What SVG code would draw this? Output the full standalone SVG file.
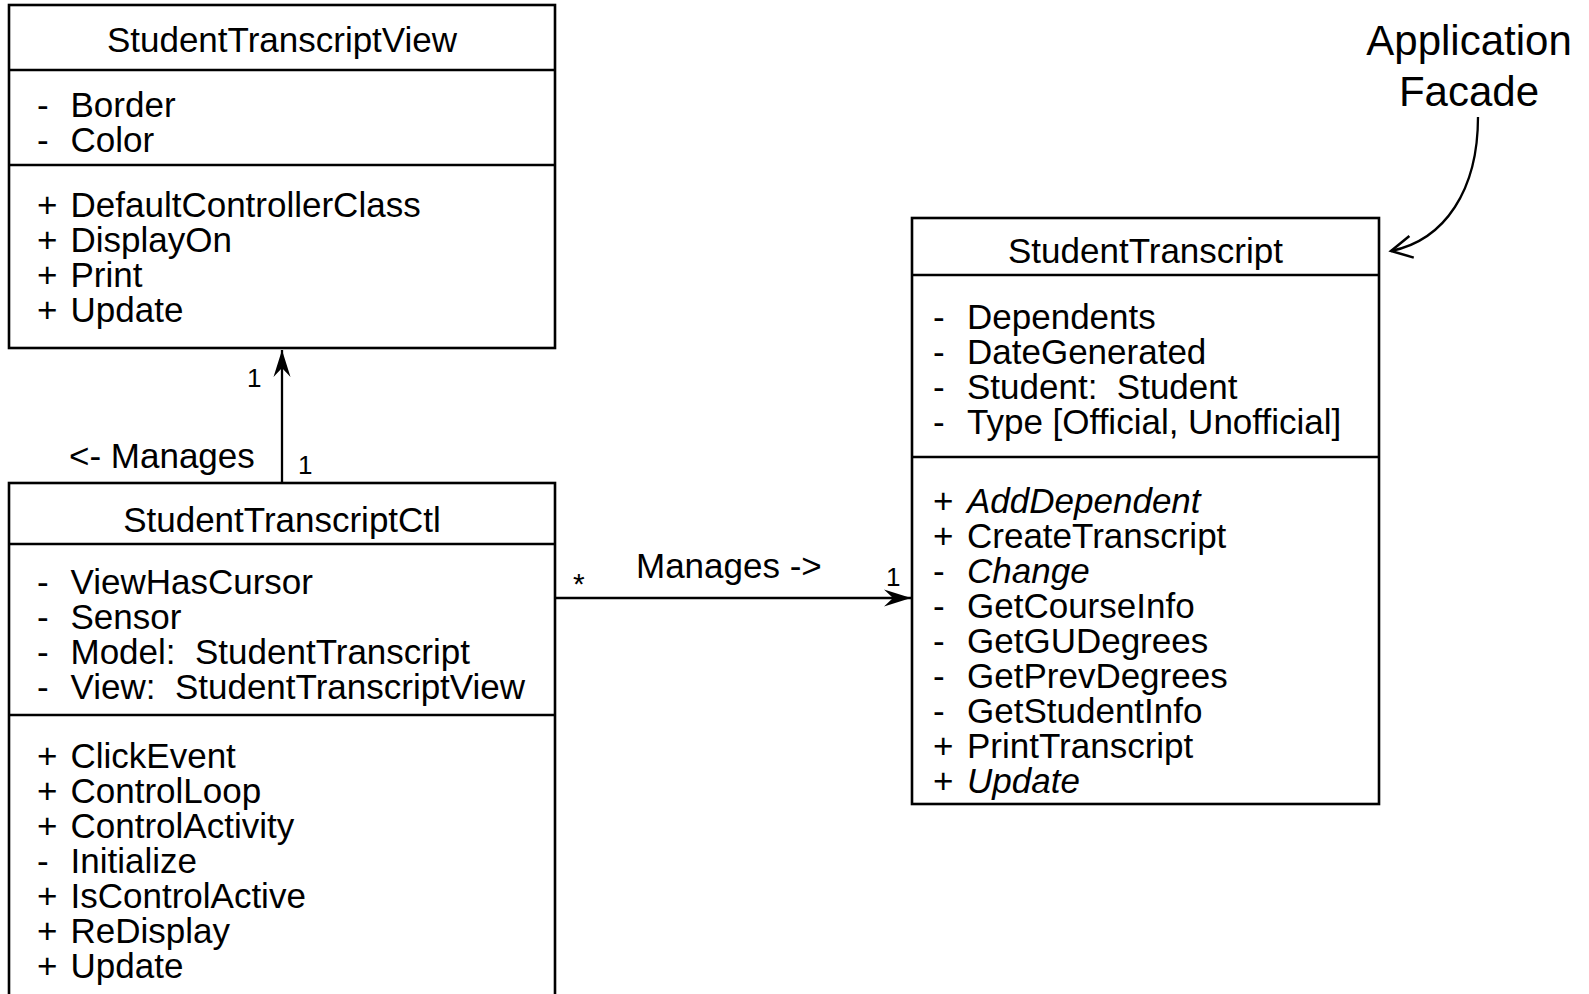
<svg xmlns="http://www.w3.org/2000/svg" width="1589" height="994" viewBox="0 0 1589 994">
<style>
.box{fill:#fff;stroke:#000;stroke-width:2.6}
.div{stroke:#000;stroke-width:2.6}
.t{font-size:35px}
.ti{font-size:35px;text-anchor:middle}
.it{font-style:italic}
.m{font-size:26px}
.star{font-size:30px}
.big{font-size:42px;text-anchor:middle}
.conn{fill:none;stroke:#000;stroke-width:2.3}
</style>
<defs>
<marker id="barb" markerUnits="userSpaceOnUse" viewBox="-30 -10 32 20" refX="0" refY="0" markerWidth="32" markerHeight="20" orient="auto">
<path d="M0,0 L-27,-8.5 L-18,0 L-27,8.5 Z" fill="#000"/>
</marker>
<marker id="open" markerUnits="userSpaceOnUse" viewBox="-26 -14 30 28" refX="0" refY="0" markerWidth="30" markerHeight="28" orient="auto">
<path d="M-21,-11 L0,0 L-21,11" fill="none" stroke="#000" stroke-width="2.5"/>
</marker>
</defs>
<rect width="1589" height="994" fill="#fff"/>
<g font-family="'Liberation Sans', Arimo, Arial, Helvetica, sans-serif" fill="#000">

<g id="StudentTranscriptView">
<rect class="box" x="9" y="5" width="546" height="343"/>
<line class="div" x1="9" y1="70" x2="555" y2="70"/>
<line class="div" x1="9" y1="165" x2="555" y2="165"/>
<text class="ti" x="282" y="52">StudentTranscriptView</text>
<text class="t"><tspan x="37" y="117">-</tspan><tspan x="70.5" y="117">Border</tspan><tspan x="37" y="152">-</tspan><tspan x="70.5" y="152">Color</tspan></text>
<text class="t"><tspan x="37" y="217">+</tspan><tspan x="70.5" y="217">DefaultControllerClass</tspan><tspan x="37" y="252">+</tspan><tspan x="70.5" y="252">DisplayOn</tspan><tspan x="37" y="287">+</tspan><tspan x="70.5" y="287">Print</tspan><tspan x="37" y="322">+</tspan><tspan x="70.5" y="322">Update</tspan></text>
</g>

<g id="StudentTranscriptCtl">
<rect class="box" x="9" y="483" width="546" height="530"/>
<line class="div" x1="9" y1="544" x2="555" y2="544"/>
<line class="div" x1="9" y1="715" x2="555" y2="715"/>
<text class="ti" x="282" y="532">StudentTranscriptCtl</text>
<text class="t" xml:space="preserve"><tspan x="37" y="594">-</tspan><tspan x="70.5" y="594">ViewHasCursor</tspan><tspan x="37" y="629">-</tspan><tspan x="70.5" y="629">Sensor</tspan><tspan x="37" y="664">-</tspan><tspan x="70.5" y="664">Model:  StudentTranscript</tspan><tspan x="37" y="699">-</tspan><tspan x="70.5" y="699">View:  StudentTranscriptView</tspan></text>
<text class="t"><tspan x="37" y="768">+</tspan><tspan x="70.5" y="768">ClickEvent</tspan><tspan x="37" y="803">+</tspan><tspan x="70.5" y="803">ControlLoop</tspan><tspan x="37" y="838">+</tspan><tspan x="70.5" y="838">ControlActivity</tspan><tspan x="37" y="873">-</tspan><tspan x="70.5" y="873">Initialize</tspan><tspan x="37" y="908">+</tspan><tspan x="70.5" y="908">IsControlActive</tspan><tspan x="37" y="943">+</tspan><tspan x="70.5" y="943">ReDisplay</tspan><tspan x="37" y="978">+</tspan><tspan x="70.5" y="978">Update</tspan></text>
</g>

<g id="StudentTranscript">
<rect class="box" x="912" y="218" width="467" height="586"/>
<line class="div" x1="912" y1="275" x2="1379" y2="275"/>
<line class="div" x1="912" y1="457" x2="1379" y2="457"/>
<text class="ti" x="1145.5" y="263">StudentTranscript</text>
<text class="t" xml:space="preserve"><tspan x="933" y="329">-</tspan><tspan x="967" y="329">Dependents</tspan><tspan x="933" y="364">-</tspan><tspan x="967" y="364">DateGenerated</tspan><tspan x="933" y="399">-</tspan><tspan x="967" y="399">Student:  Student</tspan><tspan x="933" y="434">-</tspan><tspan x="967" y="434">Type [Official, Unofficial]</tspan></text>
<text class="t"><tspan x="933" y="513">+</tspan><tspan x="967" y="513" class="it">AddDependent</tspan><tspan x="933" y="548">+</tspan><tspan x="967" y="548">CreateTranscript</tspan><tspan x="933" y="583">-</tspan><tspan x="967" y="583" class="it">Change</tspan><tspan x="933" y="618">-</tspan><tspan x="967" y="618">GetCourseInfo</tspan><tspan x="933" y="653">-</tspan><tspan x="967" y="653">GetGUDegrees</tspan><tspan x="933" y="688">-</tspan><tspan x="967" y="688">GetPrevDegrees</tspan><tspan x="933" y="723">-</tspan><tspan x="967" y="723">GetStudentInfo</tspan><tspan x="933" y="758">+</tspan><tspan x="967" y="758">PrintTranscript</tspan><tspan x="933" y="793">+</tspan><tspan x="967" y="793" class="it">Update</tspan></text>
</g>

<g id="ApplicationFacade">
<text class="big" x="1469" y="55">Application<tspan x="1469" y="106">Facade</tspan></text>
</g>

<g id="connectors">
<line class="conn" x1="282" y1="483" x2="282" y2="350" marker-end="url(#barb)"/>
<text class="m" x="247" y="387">1</text>
<text class="m" x="298" y="474">1</text>
<text class="t" x="69" y="468">&lt;- Manages</text>
<line class="conn" x1="555" y1="598" x2="911" y2="598" marker-end="url(#barb)"/>
<text class="star" x="573" y="594">*</text>
<text class="t" x="636" y="578">Manages -&gt;</text>
<text class="m" x="886" y="586">1</text>
<path class="conn" d="M1478,117 C1478,190 1445,240 1391,251" marker-end="url(#open)"/>
</g>
</g>
</svg>
